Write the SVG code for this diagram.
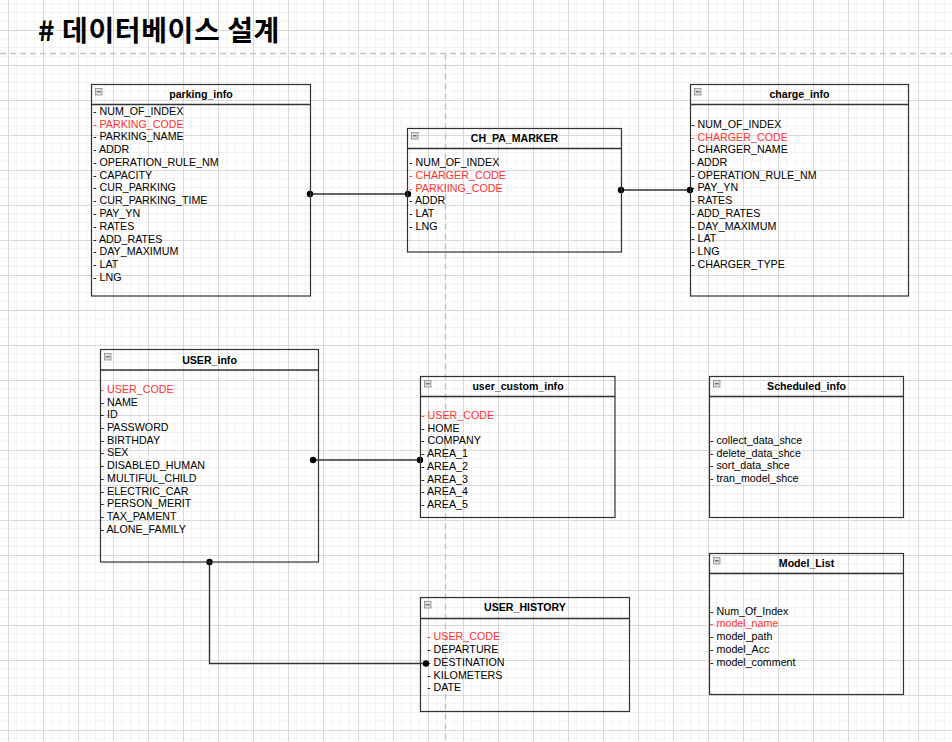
<svg xmlns="http://www.w3.org/2000/svg" width="952" height="742" viewBox="0 0 952 742">
<style>
.box{fill:none;stroke:#333;stroke-width:1.2}
.hdr{stroke:#333;stroke-width:1.4}
.ttl{font-family:"Liberation Sans",Arial,sans-serif;font-size:10.6px;font-weight:bold;fill:#000;text-anchor:middle}
.row{font-family:"Liberation Sans",Arial,sans-serif;font-size:10.7px;fill:#000}
.key{fill:#ff3333}
.ico{fill:#e0e0e0;stroke:#8a8a8a;stroke-width:0.8}
.icm{stroke:#444;stroke-width:1}
.con{fill:none;stroke:#333;stroke-width:1.4}
.dot{fill:#000}
.guide{stroke:#c4c4c4;stroke-width:1.5;stroke-dasharray:6 4;fill:none}
</style>
<defs>
<pattern id="grid" x="8" y="30" width="35" height="35" patternUnits="userSpaceOnUse">
<path d="M8.75 0V35M17.5 0V35M26.25 0V35M0 8.75H35M0 17.5H35M0 26.25H35" stroke="#f1f1f1" stroke-width="1" fill="none"/>
<path d="M0.5 0V35M0 0.5H35" stroke="#dadada" stroke-width="1" fill="none"/>
</pattern>
</defs>
<rect width="952" height="742" fill="#fff"/>
<rect width="952" height="742" fill="url(#grid)"/>
<path class="guide" d="M0 53.5H952M445.5 53.5V742"/>
<text x="38" y="41" font-family="'Noto Sans CJK KR','Noto Sans',sans-serif" font-size="28" font-weight="bold" letter-spacing="0.6" fill="#000"># 데이터베이스 설계</text>

<g id="connectors">
<path class="con" d="M310 194H408"/>
<circle class="dot" cx="310" cy="194" r="3.2"/><circle class="dot" cx="408" cy="194" r="3.2"/>
<path class="con" d="M621 190H690"/>
<circle class="dot" cx="621" cy="190" r="3.2"/><circle class="dot" cx="690" cy="190" r="3.2"/>
<path class="con" d="M313 460H420"/>
<circle class="dot" cx="313" cy="460" r="3.2"/><circle class="dot" cx="420" cy="460" r="3.2"/>
<path class="con" d="M209.5 562V663.5H426"/>
<circle class="dot" cx="209.5" cy="562" r="3.2"/><circle class="dot" cx="426" cy="663.5" r="3.2"/>
</g>

<g id="parking_info">
<rect class="box" x="91.5" y="84.5" width="219" height="211.5"/>
<path class="hdr" d="M91.5 104.5H310.5"/>
<rect class="ico" x="95.5" y="88.5" width="6.5" height="6.5"/><path class="icm" d="M96.8 91.8H100.7"/>
<text class="ttl" x="201" y="98">parking_info</text>
<text class="row">
<tspan x="93" y="114.8">- NUM_OF_INDEX</tspan>
<tspan x="93" dy="12.77" class="key">- PARKING_CODE</tspan>
<tspan x="93" dy="12.77">- PARKING_NAME</tspan>
<tspan x="93" dy="12.77">- ADDR</tspan>
<tspan x="93" dy="12.77">- OPERATION_RULE_NM</tspan>
<tspan x="93" dy="12.77">- CAPACITY</tspan>
<tspan x="93" dy="12.77">- CUR_PARKING</tspan>
<tspan x="93" dy="12.77">- CUR_PARKING_TIME</tspan>
<tspan x="93" dy="12.77">- PAY_YN</tspan>
<tspan x="93" dy="12.77">- RATES</tspan>
<tspan x="93" dy="12.77">- ADD_RATES</tspan>
<tspan x="93" dy="12.77">- DAY_MAXIMUM</tspan>
<tspan x="93" dy="12.77">- LAT</tspan>
<tspan x="93" dy="12.77">- LNG</tspan>
</text>
</g>

<g id="CH_PA_MARKER">
<rect class="box" x="407.5" y="128.5" width="214" height="123.5"/>
<path class="hdr" d="M407.5 148.5H621.5"/>
<rect class="ico" x="411.5" y="132.5" width="6.5" height="6.5"/><path class="icm" d="M412.8 135.8H416.7"/>
<text class="ttl" x="514.5" y="142">CH_PA_MARKER</text>
<text class="row">
<tspan x="409" y="166">- NUM_OF_INDEX</tspan>
<tspan x="409" dy="12.75" class="key">- CHARGER_CODE</tspan>
<tspan x="409" dy="12.75" class="key">- PARKIING_CODE</tspan>
<tspan x="409" dy="12.75">- ADDR</tspan>
<tspan x="409" dy="12.75">- LAT</tspan>
<tspan x="409" dy="12.75">- LNG</tspan>
</text>
</g>

<g id="charge_info">
<rect class="box" x="690.5" y="84.5" width="218" height="211.5"/>
<path class="hdr" d="M690.5 104.5H908.5"/>
<rect class="ico" x="694.5" y="88.5" width="6.5" height="6.5"/><path class="icm" d="M695.8 91.8H699.7"/>
<text class="ttl" x="799.5" y="98">charge_info</text>
<text class="row">
<tspan x="691" y="127.8">- NUM_OF_INDEX</tspan>
<tspan x="691" dy="12.73" class="key">- CHARGER_CODE</tspan>
<tspan x="691" dy="12.73">- CHARGER_NAME</tspan>
<tspan x="691" dy="12.73">- ADDR</tspan>
<tspan x="691" dy="12.73">- OPERATION_RULE_NM</tspan>
<tspan x="691" dy="12.73">- PAY_YN</tspan>
<tspan x="691" dy="12.73">- RATES</tspan>
<tspan x="691" dy="12.73">- ADD_RATES</tspan>
<tspan x="691" dy="12.73">- DAY_MAXIMUM</tspan>
<tspan x="691" dy="12.73">- LAT</tspan>
<tspan x="691" dy="12.73">- LNG</tspan>
<tspan x="691" dy="12.73">- CHARGER_TYPE</tspan>
</text>
</g>

<g id="USER_info">
<rect class="box" x="100.5" y="349.5" width="218" height="212.5"/>
<path class="hdr" d="M100.5 370H318.5"/>
<rect class="ico" x="104.5" y="353.5" width="6.5" height="6.5"/><path class="icm" d="M105.8 356.8H109.7"/>
<text class="ttl" x="209.5" y="363.5">USER_info</text>
<text class="row">
<tspan x="100.5" y="392.8" class="key">- USER_CODE</tspan>
<tspan x="100.5" dy="12.73">- NAME</tspan>
<tspan x="100.5" dy="12.73">- ID</tspan>
<tspan x="100.5" dy="12.73">- PASSWORD</tspan>
<tspan x="100.5" dy="12.73">- BIRTHDAY</tspan>
<tspan x="100.5" dy="12.73">- SEX</tspan>
<tspan x="100.5" dy="12.73">- DISABLED_HUMAN</tspan>
<tspan x="100.5" dy="12.73">- MULTIFUL_CHILD</tspan>
<tspan x="100.5" dy="12.73">- ELECTRIC_CAR</tspan>
<tspan x="100.5" dy="12.73">- PERSON_MERIT</tspan>
<tspan x="100.5" dy="12.73">- TAX_PAMENT</tspan>
<tspan x="100.5" dy="12.73">- ALONE_FAMILY</tspan>
</text>
</g>

<g id="user_custom_info">
<rect class="box" x="420.5" y="376.5" width="194.5" height="141"/>
<path class="hdr" d="M420.5 396.5H615"/>
<rect class="ico" x="424.5" y="380.5" width="6.5" height="6.5"/><path class="icm" d="M425.8 383.8H429.7"/>
<text class="ttl" x="518" y="390">user_custom_info</text>
<text class="row">
<tspan x="421" y="418.8" class="key">- USER_CODE</tspan>
<tspan x="421" dy="12.76">- HOME</tspan>
<tspan x="421" dy="12.76">- COMPANY</tspan>
<tspan x="421" dy="12.76">- AREA_1</tspan>
<tspan x="421" dy="12.76">- AREA_2</tspan>
<tspan x="421" dy="12.76">- AREA_3</tspan>
<tspan x="421" dy="12.76">- AREA_4</tspan>
<tspan x="421" dy="12.76">- AREA_5</tspan>
</text>
</g>

<g id="Scheduled_info">
<rect class="box" x="709.5" y="376.5" width="194" height="141"/>
<path class="hdr" d="M709.5 396.5H903.5"/>
<rect class="ico" x="713.5" y="380.5" width="6.5" height="6.5"/><path class="icm" d="M714.8 383.8H718.7"/>
<text class="ttl" x="806.5" y="390">Scheduled_info</text>
<text class="row">
<tspan x="710" y="443.8">- collect_data_shce</tspan>
<tspan x="710" dy="12.77">- delete_data_shce</tspan>
<tspan x="710" dy="12.77">- sort_data_shce</tspan>
<tspan x="710" dy="12.77">- tran_model_shce</tspan>
</text>
</g>

<g id="Model_List">
<rect class="box" x="709.5" y="553.5" width="194" height="141"/>
<path class="hdr" d="M709.5 573.5H903.5"/>
<rect class="ico" x="713.5" y="557.5" width="6.5" height="6.5"/><path class="icm" d="M714.8 560.8H718.7"/>
<text class="ttl" x="806.5" y="567">Model_List</text>
<text class="row">
<tspan x="710" y="614.5">- Num_Of_Index</tspan>
<tspan x="710" dy="12.77" class="key">- model_name</tspan>
<tspan x="710" dy="12.77">- model_path</tspan>
<tspan x="710" dy="12.77">- model_Acc</tspan>
<tspan x="710" dy="12.77">- model_comment</tspan>
</text>
</g>

<g id="USER_HISTORY">
<rect class="box" x="420.5" y="597.5" width="209" height="114"/>
<path class="hdr" d="M420.5 618.5H629.5"/>
<rect class="ico" x="424.5" y="601.5" width="6.5" height="6.5"/><path class="icm" d="M425.8 604.8H429.7"/>
<text class="ttl" x="525" y="611">USER_HISTORY</text>
<text class="row">
<tspan x="427" y="640.4" class="key">- USER_CODE</tspan>
<tspan x="427" dy="12.77">- DEPARTURE</tspan>
<tspan x="427" dy="12.77">- DESTINATION</tspan>
<tspan x="427" dy="12.77">- KILOMETERS</tspan>
<tspan x="427" dy="12.77">- DATE</tspan>
</text>
</g>
</svg>
